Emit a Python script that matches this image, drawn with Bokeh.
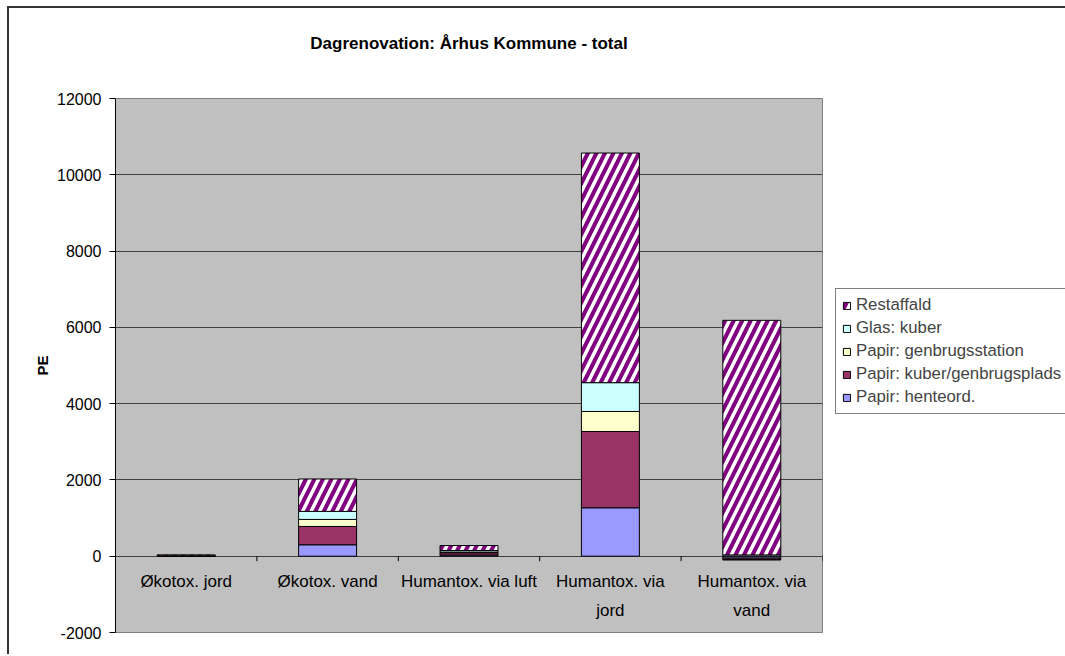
from bokeh.plotting import figure
from bokeh.models import Legend, LegendItem, FixedTicker, Range1d, Title
from bokeh.core.properties import value
from bokeh.embed import file_html
from bokeh.resources import INLINE

# ---------------- data ----------------
categories = ["Økotox. jord", "Økotox. vand", "Humantox. via luft",
              "Humantox. via jord", "Humantox. via vand"]
category_labels = ["Økotox. jord", "Økotox. vand", "Humantox. via luft",
                   "Humantox. via\njord", "Humantox. via\nvand"]

papir_henteord = [3, 300, 30, 1270, -50]
papir_kuber_genbrugsplads = [5, 480, 60, 2000, -40]
papir_genbrugsstation = [1, 185, 20, 525, -5]
glas_kuber = [2, 210, 40, 755, 34]
restaffald = [25, 850, 130, 6020, 6150]

series_names = ["Papir: henteord.", "Papir: kuber/genbrugsplads",
                "Papir: genbrugsstation", "Glas: kuber", "Restaffald"]
series_values = [papir_henteord, papir_kuber_genbrugsplads,
                 papir_genbrugsstation, glas_kuber, restaffald]
series_colors = ["#9999FF", "#993366", "#FFFFCC", "#CCFFFF", "#FFFFFF"]

y_ticks = [-2000, 0, 2000, 4000, 6000, 8000, 10000, 12000]
y_tick_labels = {t: str(t) for t in y_ticks}

chart_title = "Dagrenovation: Århus Kommune - total"

FONT = value("Liberation Sans")

# ---------------- figure ----------------
p = figure(frame_width=707, frame_height=534, output_backend="svg", toolbar_location=None,
           x_range=Range1d(-0.5, len(categories) - 0.5),
           y_range=Range1d(y_ticks[0], y_ticks[-1]),
           min_border_left=106, min_border_right=243,
           min_border_top=90, min_border_bottom=22)
p.styles = {"border-left": "2px solid #333333", "border-top": "2px solid #333333",
            "margin-left": "7px", "margin-top": "6px"}

p.background_fill_color = "#C0C0C0"
p.border_fill_color = "white"
p.outline_line_color = "#808080"
p.outline_line_width = 1

# spacer (closest to frame) then the real title above it
p.add_layout(Title(text=" ", text_font="Liberation Sans", text_font_size="17px",
                   standoff=25), "above")
p.add_layout(Title(text=chart_title, text_font="Liberation Sans", text_font_size="17px",
                   text_font_style="bold", text_color="black", align="center",
                   standoff=0), "above")

p.xaxis.visible = False
p.xgrid.visible = False

yax = p.yaxis[0]
yax.ticker = FixedTicker(ticks=y_ticks)
yax.major_label_overrides = y_tick_labels
yax.minor_tick_line_color = None
yax.major_tick_in = 0
yax.major_tick_out = 6
yax.major_tick_line_color = "black"
yax.axis_line_color = "black"
yax.major_label_text_font = "Liberation Sans"
yax.major_label_text_font_size = "16px"
yax.major_label_text_color = "black"
yax.major_label_standoff = 8
yax.axis_label = "PE"
yax.axis_label_text_font = "Liberation Sans"
yax.axis_label_text_font_style = "bold"
yax.axis_label_text_font_size = "15px"
yax.axis_label_text_color = "black"
yax.axis_label_standoff = 3

p.ygrid.ticker = FixedTicker(ticks=y_ticks)
p.ygrid.grid_line_color = "#404040"
p.ygrid.grid_line_width = 1

# ---------------- stacked bars (Excel-style pos/neg stacking) ----------------
n = len(categories)
xs = list(range(n))
pos_base = [0.0] * n
neg_base = [0.0] * n
renderers = []
for name, vals, col in zip(series_names, series_values, series_colors):
    bottoms, tops = [], []
    for i, v in enumerate(vals):
        if v >= 0:
            bottoms.append(pos_base[i]); tops.append(pos_base[i] + v); pos_base[i] += v
        else:
            bottoms.append(neg_base[i] + v); tops.append(neg_base[i]); neg_base[i] += v
    kw = {}
    if name == "Restaffald":
        kw = dict(hatch_pattern="/", hatch_color="#800080", hatch_weight=4, hatch_scale=17)
    r = p.vbar(x=xs, bottom=bottoms, top=tops, width=0.41, fill_color=col,
               line_color="black", line_width=1, **kw)
    renderers.append((name, r))

# category separator ticks along zero line
bounds = [i + 0.5 for i in range(n)]
p.segment(x0=bounds, y0=[0] * n, x1=bounds, y1=[-130] * n, line_color="black", line_width=1)

# category labels
p.text(x=xs, y=[0] * n, text=category_labels, text_align="center", text_baseline="top",
       y_offset=16, text_font=FONT, text_font_size="17px", text_color="black",
       text_line_height=1.5)

# ---------------- legend ----------------
items = [LegendItem(label=name, renderers=[r]) for name, r in reversed(renderers)]
legend = Legend(items=items, location=(13, 218), orientation="vertical",
                label_text_font="Liberation Sans", label_text_font_size="16.8px",
                glyph_width=9, glyph_height=9, label_height=19, spacing=3,
                padding=6, margin=0, border_line_color="black", border_line_width=1,
                background_fill_color="white", background_fill_alpha=1,
                label_standoff=5)
p.add_layout(legend, "right")

open("out.html", "w").write(file_html(p, INLINE))
